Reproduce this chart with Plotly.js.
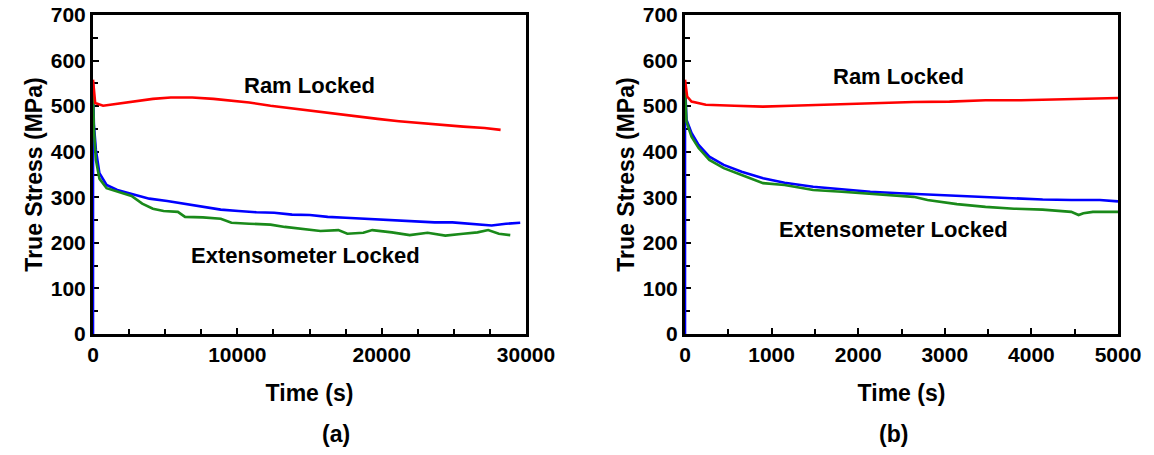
<!DOCTYPE html>
<html>
<head>
<meta charset="utf-8">
<script src="https://cdn.plot.ly/plotly-3.0.1.min.js"></script>
<style>html,body{margin:0;padding:0;background:#fff;}#chart{width:1154px;height:455px;}</style>
</head>
<body>
<div id="chart"></div>
<script>
// ---- Panel (a): long-time relaxation, time in s ----
const aRamTime   = [0, 150, 700, 1680, 2900, 4150, 5390, 6870, 8350, 9590, 10820, 12300, 13790, 15270, 16750, 18240, 19720, 21200, 22680, 24170, 25650, 27130, 28240];
const aRamStress = [558, 507, 501, 505, 510, 516, 519, 519, 516, 512, 508, 501, 495, 489, 483, 477, 472, 467, 463, 458, 455, 452, 448];

const aExtBlueTime   = [0, 0, 60, 200, 445, 940, 1680, 2670, 3900, 5140, 6375, 7610, 8850, 10080, 11320, 12550, 13790, 15020, 16260, 17500, 18730, 19970, 21200, 22440, 23670, 24900, 26140, 27620, 28610, 29600];
const aExtBlueStress = [0, 552, 460, 404, 353, 327, 316, 308, 297, 292, 286, 279, 273, 270, 267, 266, 262, 261, 257, 255, 253, 252, 250, 247, 245, 245, 242, 238, 242, 244];

const aExtGreenTime   = [0, 60, 200, 445, 940, 1680, 2670, 3410, 4150, 4890, 5880, 6375, 7610, 8850, 9590, 10820, 12300, 13290, 14530, 15760, 17000, 17620, 18730, 19350, 20710, 21940, 23180, 24410, 25650, 26640, 27380, 28120, 28910];
const aExtGreenStress = [535, 450, 382, 341, 320, 312, 303, 286, 275, 270, 268, 257, 256, 253, 244, 242, 240, 235, 231, 226, 228, 220, 222, 228, 223, 217, 222, 216, 220, 223, 228, 220, 217];

// ---- Panel (b): first 5000 s ----
const bRamTime   = [0, 25, 75, 240, 570, 900, 1230, 1565, 1900, 2230, 2640, 3055, 3470, 3880, 4300, 4710, 5000];
const bRamStress = [558, 521, 510, 503, 501, 499, 501, 503, 505, 507, 509, 510, 513, 513, 515, 516, 518];

const bExtBlueTime   = [0, 0, 17, 75, 157, 281, 447, 654, 902, 1150, 1480, 1810, 2140, 2475, 2800, 3140, 3470, 3800, 4130, 4460, 4790, 5000];
const bExtBlueStress = [0, 552, 470, 441, 415, 389, 371, 356, 342, 332, 323, 317, 312, 309, 306, 303, 300, 297, 295, 294, 294, 291];

const bExtGreenTime   = [0, 17, 75, 157, 281, 447, 654, 902, 1150, 1480, 1810, 2140, 2475, 2640, 2800, 3140, 3470, 3800, 4130, 4460, 4545, 4600, 4710, 5000];
const bExtGreenStress = [535, 466, 433, 408, 382, 364, 349, 331, 327, 316, 312, 307, 303, 301, 294, 285, 279, 275, 273, 268, 261, 265, 268, 268];

// ---- tick labels ----
const aTimeTicks = [0, 10000, 20000, 30000];
const bTimeTicks = [0, 1000, 2000, 3000, 4000, 5000];
const stressTicks = [0, 100, 200, 300, 400, 500, 600, 700];

const panelLabels = ['(a)', '(b)'];
const xTitle = 'Time (s)';
const yTitle = 'True Stress (MPa)';
const curveLabels = ['Ram Locked', 'Extensometer Locked'];

const RED = '#ff0000', BLUE = '#0000ff', GREEN = '#1a8a1a';
const FONT = 'Liberation Sans, Arial, Helvetica, sans-serif';

function line(x, y, color, xa, ya, name) {
  return {x: x, y: y, type: 'scatter', mode: 'lines', name: name,
          line: {color: color, width: 2.6}, xaxis: xa, yaxis: ya,
          cliponaxis: false, showlegend: false, hoverinfo: 'x+y'};
}

const data = [
  line(aExtBlueTime, aExtBlueStress, BLUE, 'x', 'y', 'Extensometer Locked (blue)'),
  line(aExtGreenTime, aExtGreenStress, GREEN, 'x', 'y', 'Extensometer Locked (green)'),
  line(aRamTime, aRamStress, RED, 'x', 'y', 'Ram Locked'),
  line(bExtBlueTime, bExtBlueStress, BLUE, 'x2', 'y2', 'Extensometer Locked (blue)'),
  line(bExtGreenTime, bExtGreenStress, GREEN, 'x2', 'y2', 'Extensometer Locked (green)'),
  line(bRamTime, bRamStress, RED, 'x2', 'y2', 'Ram Locked')
];

const tickFont = {family: FONT, size: 21, color: '#000'};
const titleFont = {family: FONT, size: 23, color: '#000', weight: 700};
const bold = v => '<b>' + v + '</b>';

function xAxis(domain, range, ticks, minorDtick, anchor) {
  return {
    domain: domain, range: range, anchor: anchor,
    tickmode: 'array', tickvals: ticks, ticktext: ticks.map(bold),
    showgrid: false, zeroline: false, showline: true, linecolor: '#000', linewidth: 3, mirror: true,
    ticks: 'inside', ticklen: 6, tickwidth: 2, tickcolor: '#000',
    minor: {ticks: 'inside', dtick: minorDtick, tick0: 0, ticklen: 5, tickwidth: 2, tickcolor: '#000', showgrid: false},
    tickfont: tickFont, layer: 'below traces',
    title: {text: bold(xTitle), font: titleFont, standoff: 20}, automargin: false
  };
}
function yAxis(domain, anchor) {
  return {
    domain: domain, range: [0, 700], anchor: anchor,
    tickmode: 'array', tickvals: stressTicks, ticktext: stressTicks.map(bold),
    showgrid: false, zeroline: false, showline: true, linecolor: '#000', linewidth: 3, mirror: true,
    ticks: 'inside', ticklen: 6, tickwidth: 2, tickcolor: '#000',
    minor: {ticks: 'inside', dtick: 50, tick0: 0, ticklen: 5, tickwidth: 2, tickcolor: '#000', showgrid: false},
    tickfont: tickFont, layer: 'below traces',
    title: {text: bold(yTitle), font: titleFont, standoff: 2}, automargin: false
  };
}

const W = 1154, H = 455;
const yDom = [(H - 334) / H, (H - 15) / H];

const annFont = {family: FONT, size: 22, color: '#000'};
const annotations = [
  {xref: 'x', yref: 'y', x: 15000, y: 545, text: bold(curveLabels[0]), showarrow: false, font: annFont},
  {xref: 'x', yref: 'y', x: 14700, y: 173, text: bold(curveLabels[1]), showarrow: false, font: annFont},
  {xref: 'x2', yref: 'y2', x: 2460, y: 566, text: bold(curveLabels[0]), showarrow: false, font: annFont},
  {xref: 'x2', yref: 'y2', x: 2410, y: 230, text: bold(curveLabels[1]), showarrow: false, font: annFont},
  {xref: 'paper', yref: 'paper', x: 320 / W, y: (H - 434) / H, text: bold(panelLabels[0]), showarrow: false, font: titleFont, yanchor: 'middle'},
  {xref: 'paper', yref: 'paper', x: 910 / W, y: (H - 434) / H, text: bold(panelLabels[1]), showarrow: false, font: titleFont, yanchor: 'middle'}
];

const layout = {
  width: W, height: H,
  margin: {l: 0, r: 0, t: 0, b: 0},
  paper_bgcolor: '#fff', plot_bgcolor: '#fff',
  font: {family: FONT, color: '#000'},
  showlegend: false,
  xaxis: xAxis([93 / W, 526 / W], [0, 30000], aTimeTicks, 2500, 'y'),
  yaxis: yAxis(yDom, 'x'),
  xaxis2: xAxis([685 / W, 1118 / W], [0, 5000], bTimeTicks, 500, 'y2'),
  yaxis2: yAxis(yDom, 'x2'),
  annotations: annotations
};

Plotly.newPlot('chart', data, layout, {displayModeBar: false, staticPlot: true});
</script>
</body>
</html>
